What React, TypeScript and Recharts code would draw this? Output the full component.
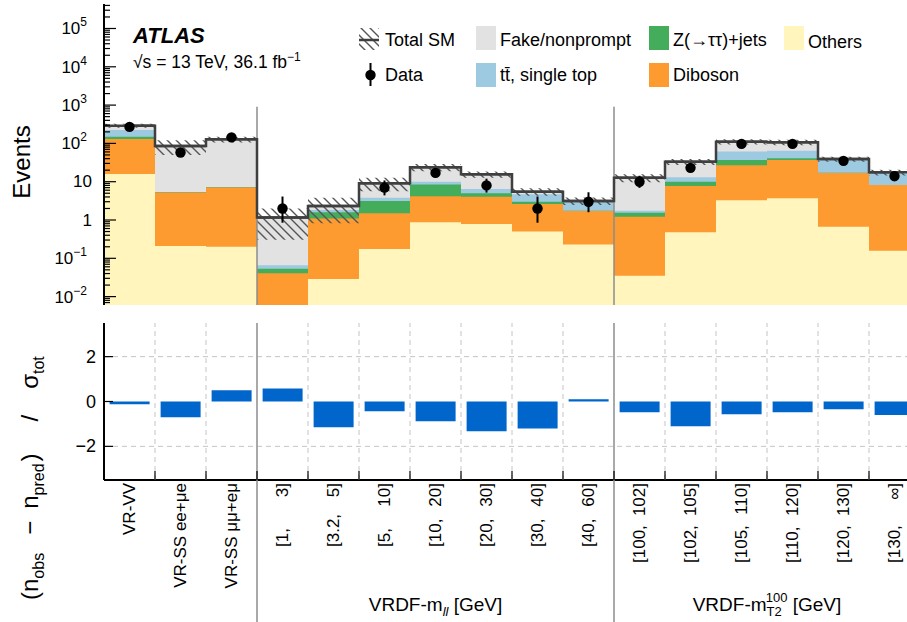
import React from 'react';
import { ComposedChart, Bar, Line, XAxis, YAxis, ReferenceLine, ErrorBar } from 'recharts';

// bins (category labels along the bottom)
const categories = [
  'VR-VV', 'VR-SS ee+\u03bce', 'VR-SS \u03bc\u03bc+e\u03bc',
  '[1, 3]', '[3.2, 5]', '[5, 10]', '[10, 20]', '[20, 30]', '[30, 40]', '[40, 60]',
  '[100, 102]', '[102, 105]', '[105, 110]', '[110, 120]', '[120, 130]', '[130, \u221e]',
];

// background components (events)
const others = [16, 0.21, 0.2, 0.003, 0.029, 0.175, 0.87, 0.79, 0.5, 0.23, 0.035, 0.48, 3.3, 3.7, 0.67, 0.158];
const diboson = [114, 5.0, 6.9, 0.038, 1.07, 1.33, 3.33, 3.27, 2.1, 1.49, 1.185, 7.2, 23.7, 33.3, 16.3, 8.0];
const zjets = [20, 0.08, 0.05, 0.012, 0.5, 1.63, 4.3, 0.94, 0.4, 0.02, 0.33, 2.3, 10, 4, 0.2, 0.05];
const ttbar = [74, 0.1, 0.1, 0.013, 0.23, 0.7, 1.5, 1.45, 1.7, 1.39, 0.2, 3.0, 24, 23, 20, 9.0];
const fake = [66, 79.6, 121, 1.09, 0.5, 5.3, 13.8, 9.15, 0.8, 0.02, 10.95, 20.3, 50, 43, 1.8, 0.4];
const totalErr = [35, 35, 22, 0.85, 1.5, 3.5, 5, 3, 1.2, 0.7, 3, 6, 18, 17, 6, 3];

// data
const dataObs = [270, 58, 144, 2, null, 7, 17, 8, 2, 3, 10, 23, 97, 97, 35, 14];
const dataErrLow = [16, 7.6, 12, 1.15, null, 2.6, 4.1, 2.8, 1.15, 1.4, 3.1, 4.8, 9.8, 9.8, 5.9, 3.7];
const dataErrHigh = [17, 8.6, 13, 2.1, null, 3.8, 5.2, 4, 2.1, 2.3, 4.3, 5.8, 10.8, 10.8, 6.9, 4.8];

// significance in the lower panel
const pulls = [-0.12, -0.7, 0.5, 0.58, -1.15, -0.43, -0.88, -1.33, -1.2, 0.1, -0.48, -1.1, -0.57, -0.48, -0.35, -0.6];

const pullTicks = [-2, 0, 2];
const dividerBins = [3, 10];

const COLORS = {
  fake: '#e2e2e2',
  ttbar: '#9ecae1',
  zjets: '#44ad5b',
  diboson: '#fd9a30',
  others: '#fff5bd',
};
const LINE = '#3f3f3f';
const PULL = '#0066cc';
const DIVIDER = '#8c8c8c';
const FONT = '"Liberation Sans", Arial, Helvetica, sans-serif';

const BIN = 51;
const AXIS_W = 104;
const RIGHT_W = 10;
const CHART_W = AXIS_W + BIN * categories.length + RIGHT_W;
const TOP_H = 310;
const BOTTOM_H = 312;
const PANEL_H = 157;
const LABEL_H = 142;
const YMIN = 0.00604;
const YMAX = 4.36e5;

// log ticks, 1..9 per decade
const logTicks: number[] = [];
for (let d = -3; d <= 5; d++) {
  for (let m = 1; m <= 9; m++) {
    const v = m * Math.pow(10, d);
    if (v >= YMIN && v <= YMAX) logTicks.push(v);
  }
}

const stackData = categories.map((cat, i) => {
  const s1 = others[i];
  const s2 = s1 + diboson[i];
  const s3 = s2 + zjets[i];
  const s4 = s3 + ttbar[i];
  const s5 = s4 + fake[i];
  return {
    cat,
    others: s1,
    diboson: s2,
    zjets: s3,
    ttbar: s4,
    total: s5,
    band: [s5 - totalErr[i], s5 + totalErr[i]],
    data: dataObs[i],
    dataErr: dataObs[i] == null ? null : [dataErrLow[i], dataErrHigh[i]],
  };
});

const pullData = categories.map((cat, i) => ({ cat, pull: pulls[i] }));

const minus = (v: number) => (v < 0 ? '\u2212' + Math.abs(v) : String(v));

const isDecade = (v: number) => {
  const l = Math.log10(v);
  return Math.abs(l - Math.round(l)) < 1e-6;
};

const LogTickLeft = ({ x, y, payload }: any) => {
  const v = payload.value;
  const major = isDecade(v);
  const e = Math.round(Math.log10(v));
  let label = null;
  if (major) {
    if (e === 0 || e === 1) {
      label = (
        <text x={x - 12} y={y} textAnchor="end" dominantBaseline="central" fontSize={17}>
          {e === 0 ? '1' : '10'}
        </text>
      );
    } else {
      label = (
        <text x={x - 17} y={y + 6} textAnchor="end" fontSize={17}>
          10
          <tspan dy={-8} fontSize={12}>
            {minus(e)}
          </tspan>
        </text>
      );
    }
  }
  return (
    <g>
      <line x1={x} x2={x + (major ? 12 : 6)} y1={y} y2={y} stroke="#000" strokeWidth={1.2} />
      {label}
    </g>
  );
};

const LogTickRight = ({ x, y, payload }: any) => {
  const major = isDecade(payload.value);
  return <line x1={x} x2={x - (major ? 12 : 6)} y1={y} y2={y} stroke="#000" strokeWidth={1.2} />;
};

const EdgeTickUp = ({ x, y, index }: any) => {
  const edge = x - BIN / 2;
  return index > 0 ? <line x1={edge} x2={edge} y1={y} y2={y - 9} stroke="#000" strokeWidth={1.2} /> : <g />;
};

const EdgeTickDown = ({ x, y, index }: any) => {
  const edge = x - BIN / 2;
  return index > 0 ? <line x1={edge} x2={edge} y1={y} y2={y + 9} stroke="#000" strokeWidth={1.2} /> : <g />;
};

const LabelTick = ({ x, y, index, payload }: any) => {
  const edge = x - BIN / 2;
  const label: string = payload.value;
  const divider = dividerBins.includes(index);
  const top = y + 3;
  let text;
  if (label.startsWith('[')) {
    const [lo, hi] = label.split(', ');
    const base = y + (index >= 10 ? 83 : 67);
    text = (
      <g fontSize={17}>
        <text transform={`rotate(-90 ${x} ${base})`} x={x} y={base} textAnchor="start" dominantBaseline="central">
          {lo},
        </text>
        <text transform={`rotate(-90 ${x} ${top})`} x={x} y={top} textAnchor="end" dominantBaseline="central">
          {hi}
        </text>
      </g>
    );
  } else {
    text = (
      <text
        transform={`rotate(-90 ${x} ${top})`}
        x={x}
        y={top}
        textAnchor="end"
        dominantBaseline="central"
        fontSize={17}
      >
        {label}
      </text>
    );
  }
  return (
    <g>
      {index > 0 && !divider && (
        <line x1={edge} x2={edge} y1={y} y2={y - PANEL_H} stroke="#c4c4c4" strokeDasharray="5 4" strokeWidth={1} />
      )}
      {divider && <line x1={edge} x2={edge} y1={y - PANEL_H} y2={y + LABEL_H} stroke={DIVIDER} strokeWidth={1.5} />}
      {index > 0 && <line x1={edge} x2={edge} y1={y} y2={y - 9} stroke="#000" strokeWidth={1.2} />}
      {text}
      {index === 6 && (
        <text x={x} y={y + 131} textAnchor="middle" fontSize={19}>
          VRDF-m
          <tspan dy={5} fontSize={13} fontStyle="italic">
            ll
          </tspan>
          <tspan dy={-5}> [GeV]</tspan>
        </text>
      )}
      {index === 13 && (
        <text x={edge} y={y + 131} textAnchor="middle" fontSize={19}>
          VRDF-m
          <tspan dy={5} fontSize={13}>
            T2
          </tspan>
          <tspan dx={-16} dy={-14} fontSize={13}>
            100
          </tspan>
          <tspan dy={9}> [GeV]</tspan>
        </text>
      )}
    </g>
  );
};

const PullTickLeft = ({ x, y, payload }: any) => (
  <g>
    <line x1={x} x2={x + 9} y1={y} y2={y} stroke="#000" strokeWidth={1.2} />
    <text x={x - 8} y={y} textAnchor="end" dominantBaseline="central" fontSize={18}>
      {minus(payload.value)}
    </text>
  </g>
);

const PullTickRight = ({ x, y }: any) => <line x1={x} x2={x - 9} y1={y} y2={y} stroke="#000" strokeWidth={1.2} />;

const DataDot = (p: any) =>
  p.value == null || p.cy == null || !isFinite(p.cy) ? (
    <g key={`dot-${p.index}`} />
  ) : (
    <circle key={`dot-${p.index}`} cx={p.cx} cy={p.cy} r={5.2} fill="#000" />
  );

const TopLine = (p: any) => (
  <line x1={p.x} x2={p.x + p.width} y1={p.y} y2={p.y} stroke={LINE} strokeWidth={2.5} />
);

const frame = { stroke: '#000', strokeWidth: 2 };

const legendBoxes = [
  { label: 'Fake/nonprompt', color: COLORS.fake, x: 476, row: 0 },
  { label: 'Z(\u2192\u03c4\u03c4)+jets', color: COLORS.zjets, x: 649, row: 0 },
  { label: 'Others', color: COLORS.others, x: 784, row: 0 },
  { label: 'tt\u0304, single top', color: COLORS.ttbar, x: 476, row: 1 },
  { label: 'Diboson', color: COLORS.diboson, x: 649, row: 1 },
];

const Overlay = () => (
  <svg
    width={907}
    height={622}
    style={{ position: 'absolute', left: 0, top: 0, pointerEvents: 'none' }}
    fontFamily={FONT}
  >
    <text x={133} y={43} fontSize={22} fontWeight="bold" fontStyle="italic">
      ATLAS
    </text>
    <text x={133} y={68} fontSize={17.5}>
      {'\u221As = 13 TeV, 36.1 fb'}
      <tspan dy={-7} fontSize={12}>
        {'\u22121'}
      </tspan>
    </text>

    <rect x={359} y={28} width={20} height={22} fill="url(#hatch)" />
    <line x1={359} x2={379} y1={40} y2={40} stroke={LINE} strokeWidth={2.5} />
    <text x={385} y={46} fontSize={18}>
      Total SM
    </text>
    <line x1={370.5} x2={370.5} y1={63} y2={86} stroke="#000" strokeWidth={2} />
    <circle cx={370.5} cy={75} r={5.2} fill="#000" />
    <text x={385} y={81} fontSize={18}>
      Data
    </text>
    {legendBoxes.map((b) => (
      <g key={b.label}>
        <rect x={b.x} y={b.row === 0 ? 26 : 63} width={20} height={24} fill={b.color} />
        <text x={b.x + 24} y={(b.row === 0 ? 46 : 81) + (b.label === 'Others' ? 2 : 0)} fontSize={18}>
          {b.label}
        </text>
      </g>
    ))}

    <text transform="rotate(-90 30 162)" x={30} y={162} textAnchor="middle" fontSize={24}>
      Events
    </text>
    <text transform="rotate(-90 38 600)" x={38} y={600} fontSize={24}>
      (n
      <tspan dy={6} fontSize={16}>
        obs
      </tspan>
      <tspan dy={-6} dx={18}>
        {'\u2212'}
      </tspan>
      <tspan dx={12}>n</tspan>
      <tspan dy={6} fontSize={16}>
        pred
      </tspan>
      <tspan dy={-6} dx={2}>
        )
      </tspan>
      <tspan dx={32}>/</tspan>
      <tspan dx={26}>{'\u03c3'}</tspan>
      <tspan dy={6} fontSize={16}>
        tot
      </tspan>
    </text>
  </svg>
);

export default function App() {
  return (
    <div
      style={{
        position: 'fixed',
        left: 0,
        top: 0,
        width: 907,
        height: 622,
        overflow: 'hidden',
        background: '#fff',
        fontFamily: FONT,
      }}
    >
      <svg width={0} height={0} style={{ position: 'absolute' }}>
        <defs>
          <pattern id="hatch" patternUnits="userSpaceOnUse" width={9} height={9}>
            <path d="M0,0 L9,9 M-2,7 L2,11 M7,-2 L11,2" stroke="#555" strokeWidth={1.4} />
          </pattern>
        </defs>
      </svg>

      <ComposedChart
        width={CHART_W}
        height={TOP_H}
        data={stackData}
        margin={{ top: 4, right: 0, bottom: 5, left: 0 }}
        barGap="-100%"
        barCategoryGap={0}
      >
        <XAxis dataKey="cat" height={0} tickSize={0} tickMargin={0} interval={0} axisLine={frame} tick={EdgeTickUp} />
        <XAxis
          xAxisId="top"
          orientation="top"
          dataKey="cat"
          height={0}
          tickSize={0}
          tickMargin={0}
          interval={0}
          axisLine={frame}
          tick={EdgeTickDown}
        />
        <YAxis
          type="number"
          scale="log"
          domain={[YMIN, YMAX]}
          allowDataOverflow
          ticks={logTicks}
          interval={0}
          width={AXIS_W}
          tickSize={0}
          tickMargin={0}
          axisLine={frame}
          tick={LogTickLeft}
        />
        <YAxis
          yAxisId="r"
          orientation="right"
          type="number"
          scale="log"
          domain={[YMIN, YMAX]}
          allowDataOverflow
          ticks={logTicks}
          interval={0}
          width={RIGHT_W}
          tickSize={0}
          tickMargin={0}
          axisLine={frame}
          tick={LogTickRight}
        />
        <Bar dataKey="total" fill={COLORS.fake} isAnimationActive={false} />
        <Bar dataKey="ttbar" fill={COLORS.ttbar} isAnimationActive={false} />
        <Bar dataKey="zjets" fill={COLORS.zjets} isAnimationActive={false} />
        <Bar dataKey="diboson" fill={COLORS.diboson} isAnimationActive={false} />
        <Bar dataKey="others" fill={COLORS.others} isAnimationActive={false} />
        <Bar dataKey="band" fill="url(#hatch)" isAnimationActive={false} />
        <Bar dataKey="total" shape={TopLine} isAnimationActive={false} />
        {dividerBins.map((b) => (
          <ReferenceLine
            key={b}
            segment={[
              { x: categories[b], y: 900 },
              { x: categories[b], y: YMIN },
            ]}
            position="start"
            stroke={DIVIDER}
            strokeWidth={1.5}
          />
        ))}
        <Line
          xAxisId="top"
          yAxisId="r"
          type="step"
          dataKey="total"
          stroke={LINE}
          strokeWidth={2.5}
          dot={false}
          activeDot={false}
          isAnimationActive={false}
        />
        <Line dataKey="data" stroke="none" dot={DataDot} activeDot={false} isAnimationActive={false}>
          <ErrorBar dataKey="dataErr" direction="y" width={0} stroke="#000" strokeWidth={2} isAnimationActive={false} />
        </Line>
      </ComposedChart>

      <ComposedChart
        width={CHART_W}
        height={BOTTOM_H}
        data={pullData}
        margin={{ top: 13, right: 0, bottom: 0, left: 0 }}
        barCategoryGap="11%"
      >
        <XAxis
          dataKey="cat"
          height={LABEL_H}
          tickSize={0}
          tickMargin={0}
          interval={0}
          axisLine={frame}
          tick={LabelTick}
        />
        <XAxis
          xAxisId="top"
          orientation="top"
          dataKey="cat"
          height={0}
          tickSize={0}
          tickMargin={0}
          interval={0}
          axisLine={frame}
          tick={EdgeTickDown}
        />
        <YAxis
          type="number"
          domain={[-3.5, 3.5]}
          ticks={pullTicks}
          interval={0}
          width={AXIS_W}
          tickSize={0}
          tickMargin={0}
          axisLine={frame}
          tick={PullTickLeft}
        />
        <YAxis
          yAxisId="r"
          orientation="right"
          type="number"
          domain={[-3.5, 3.5]}
          ticks={pullTicks}
          interval={0}
          width={RIGHT_W}
          tickSize={0}
          tickMargin={0}
          axisLine={frame}
          tick={PullTickRight}
        />
        <ReferenceLine y={2} stroke="#c4c4c4" strokeDasharray="5 4" />
        <ReferenceLine y={-2} stroke="#c4c4c4" strokeDasharray="5 4" />
        <Bar dataKey="pull" fill={PULL} isAnimationActive={false} />
        <Line
          xAxisId="top"
          yAxisId="r"
          dataKey="pull"
          stroke="none"
          dot={false}
          activeDot={false}
          isAnimationActive={false}
        />
      </ComposedChart>

      <Overlay />
    </div>
  );
}
